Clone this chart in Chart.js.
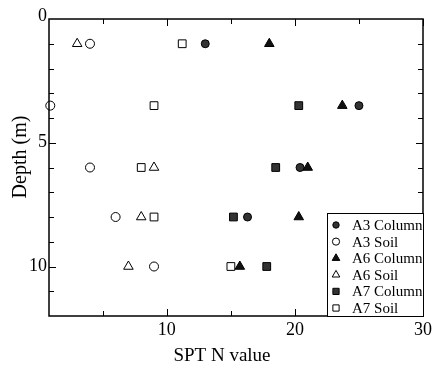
<!DOCTYPE html>
<html>
<head>
<meta charset="utf-8">
<script src="https://cdn.jsdelivr.net/npm/chart.js@4"></script>
<style>
  html, body { margin: 0; padding: 0; background: #fff; }
  canvas { display: block; }
</style>
</head>
<body>
<canvas id="myChart" width="433" height="365"></canvas>
<script>
// SPT N value (x) vs depth in m (y)
const seriesNames = ['A3 Column', 'A3 Soil', 'A6 Column', 'A6 Soil', 'A7 Column', 'A7 Soil']

const a3ColumnN = [13, 25, 20.4, 16.3]
const a3ColumnDepth = [1, 3.5, 6, 8]
const a3SoilN = [4, 0.9, 4, 6, 9]
const a3SoilDepth = [1, 3.5, 6, 8, 10]
const a6ColumnN = [18, 23.7, 21, 20.3, 15.7]
const a6ColumnDepth = [1, 3.5, 6, 8, 10]
const a6SoilN = [3, 9, 8, 7]
const a6SoilDepth = [1, 6, 8, 10]
const a7ColumnN = [20.3, 18.5, 15.2, 17.8]
const a7ColumnDepth = [3.5, 6, 8, 10]
const a7SoilN = [11.2, 9, 8, 9, 15]
const a7SoilDepth = [1, 3.5, 6, 8, 10]

const xTickLabels = [10, 20, 30]
const yTickLabels = [0, 5, 10]

const FONT = "'Liberation Serif', 'DejaVu Serif', serif"

function pts (xs, ys) {
  return xs.map((x, i) => ({ x: x, y: ys[i] }))
}

const styles = [
  { pointStyle: 'circle', radius: 4, fill: '#333' },
  { pointStyle: 'circle', radius: 4.5, fill: '#fff' },
  { pointStyle: 'triangle', radius: 5.5, fill: '#111' },
  { pointStyle: 'triangle', radius: 5.5, fill: '#fff' },
  { pointStyle: 'rect', radius: 5.5, fill: '#333' },
  { pointStyle: 'rect', radius: 5.5, fill: '#fff' }
]

const rawData = [
  pts(a3ColumnN, a3ColumnDepth),
  pts(a3SoilN, a3SoilDepth),
  pts(a6ColumnN, a6ColumnDepth),
  pts(a6SoilN, a6SoilDepth),
  pts(a7ColumnN, a7ColumnDepth),
  pts(a7SoilN, a7SoilDepth)
]

const datasets = seriesNames.map((name, i) => ({
  label: name,
  data: rawData[i],
  pointStyle: styles[i].pointStyle,
  pointRadius: styles[i].radius,
  pointBackgroundColor: styles[i].fill,
  pointBorderColor: '#000',
  pointBorderWidth: 1,
  showLine: false,
  clip: false
}))

// frame with inward ticks on all four sides, labels, titles and a boxed legend
const framePlugin = {
  id: 'frame',
  afterDatasetsDraw (chart) {
    const c = chart.ctx
    const a = chart.chartArea
    const xs = chart.scales.x
    const ys = chart.scales.y
    c.save()
    c.strokeStyle = '#000'
    c.lineWidth = 1.5
    c.strokeRect(a.left, a.top, a.right - a.left, a.bottom - a.top)

    c.lineWidth = 1
    c.beginPath()
    for (let v = 5; v <= 30; v += 5) {
      const px = Math.round(xs.getPixelForValue(v)) + 0.5
      const len = v % 10 === 0 ? 7 : 5
      c.moveTo(px, a.top); c.lineTo(px, a.top + len)
      c.moveTo(px, a.bottom); c.lineTo(px, a.bottom - len)
    }
    for (let v = 1; v < 12; v++) {
      const py = Math.round(ys.getPixelForValue(v)) + 0.5
      const len = v % 5 === 0 ? 7 : 5
      c.moveTo(a.left, py); c.lineTo(a.left + len, py)
      c.moveTo(a.right, py); c.lineTo(a.right - len, py)
    }
    c.stroke()

    c.fillStyle = '#000'
    c.font = '18px ' + FONT
    c.textAlign = 'center'
    c.textBaseline = 'top'
    xTickLabels.forEach(v => {
      c.fillText(String(v), xs.getPixelForValue(v), a.bottom + 5)
    })
    c.textAlign = 'right'
    c.textBaseline = 'middle'
    yTickLabels.forEach(v => {
      const py = ys.getPixelForValue(v) - (v === 0 ? 3 : 0)
      c.fillText(String(v), a.left - 2, py)
    })

    c.textAlign = 'center'
    c.textBaseline = 'alphabetic'
    c.font = '19px ' + FONT
    c.fillText('SPT N value', 222, 361)
    c.save()
    c.font = '20px ' + FONT
    c.translate(26, 157)
    c.rotate(-Math.PI / 2)
    c.fillText('Depth (m)', 0, 0)
    c.restore()

    // legend box in the lower right corner of the plot
    const lx = 327
    const ly = 213
    c.fillStyle = '#fff'
    c.fillRect(lx, ly, a.right - lx, a.bottom - ly)
    c.lineWidth = 1
    c.strokeStyle = '#000'
    c.strokeRect(lx + 0.5, ly + 0.5, a.right - lx, a.bottom - ly)
    c.font = '15px ' + FONT
    c.textAlign = 'left'
    c.textBaseline = 'middle'
    seriesNames.forEach((name, i) => {
      const cy = 225 + i * 16.6
      c.fillStyle = styles[i].fill
      c.strokeStyle = '#000'
      Chart.helpers.drawPoint(c, {
        pointStyle: styles[i].pointStyle,
        radius: styles[i].radius * 0.8,
        borderWidth: 1,
        rotation: 0
      }, 336, cy)
      c.fillStyle = '#000'
      c.fillText(name, 352, cy + 1)
    })
    c.restore()
  }
}

const myChart = new Chart(document.getElementById('myChart'), {
  type: 'scatter',
  data: { datasets: datasets },
  options: {
    responsive: false,
    animation: false,
    devicePixelRatio: 1,
    layout: { padding: { left: 49, right: 10, top: 19, bottom: 49 } },
    scales: {
      x: { type: 'linear', min: 0.8, max: 30, display: false },
      y: { type: 'linear', min: 0, max: 12, reverse: true, display: false }
    },
    plugins: {
      legend: { display: false },
      tooltip: { enabled: false }
    }
  },
  plugins: [framePlugin]
})
</script>
</body>
</html>
